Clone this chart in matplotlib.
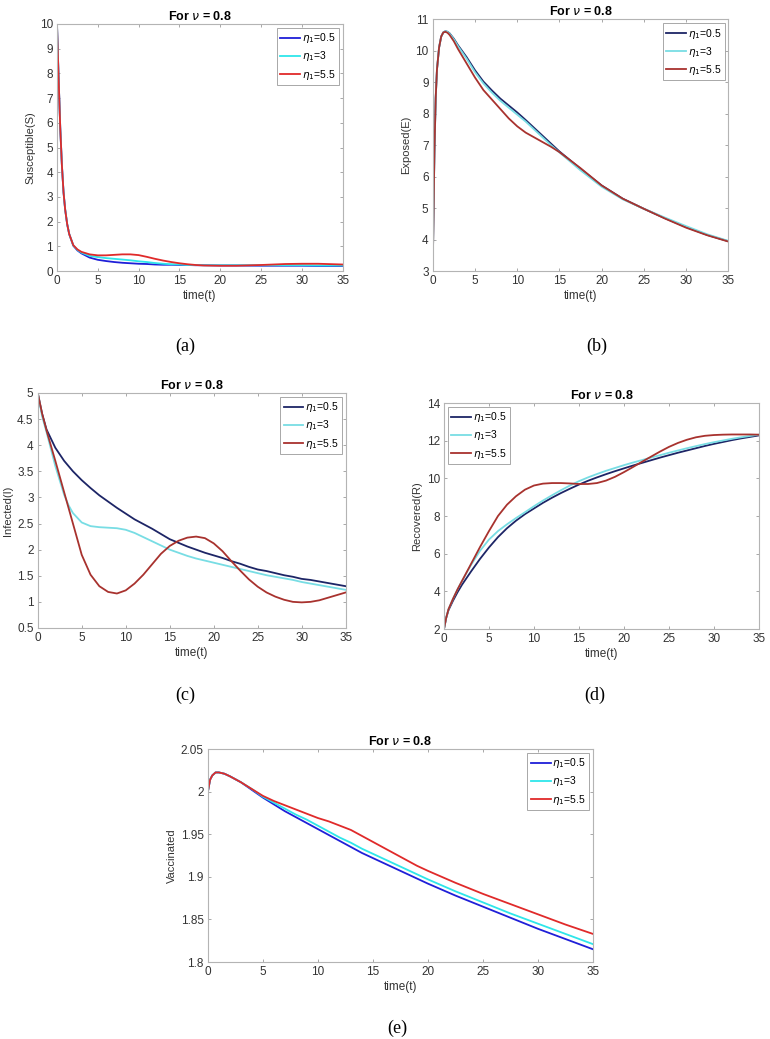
import numpy as np
import matplotlib.pyplot as plt
from matplotlib.ticker import FuncFormatter

plt.rcParams['font.family'] = ['Liberation Sans', 'DejaVu Sans']

# ============================================================
# DATA
# ============================================================

labels = [r'$\eta_1$=0.5', r'$\eta_1$=3', r'$\eta_1$=5.5']

# (a) Susceptible
t_a = [0, 0.2, 0.4, 0.6, 0.8, 1, 1.25, 1.5, 2, 2.5, 3, 4, 5, 6, 7, 8, 9, 10,
       11, 12, 13, 14, 15, 16, 17, 18, 20, 22, 25, 28, 30, 32, 35]
S_05 = [10, 7.8, 5.8, 4.3, 3.2, 2.5, 1.9, 1.5, 1.03, 0.84, 0.72, 0.55, 0.46, 0.41, 0.37, 0.34,
        0.32, 0.30, 0.29, 0.27, 0.26, 0.26, 0.25, 0.25, 0.24, 0.24, 0.23, 0.23, 0.22, 0.22, 0.22, 0.21, 0.21]
S_3 = [10, 7.8, 5.8, 4.3, 3.2, 2.5, 1.9, 1.5, 1.04, 0.86, 0.75, 0.62, 0.57, 0.53, 0.50, 0.47,
       0.44, 0.40, 0.37, 0.33, 0.30, 0.28, 0.27, 0.25, 0.25, 0.24, 0.24, 0.24, 0.24, 0.24, 0.24, 0.23, 0.23]
S_55 = [10, 7.8, 5.8, 4.3, 3.2, 2.5, 1.9, 1.5, 1.05, 0.88, 0.78, 0.68, 0.64, 0.64, 0.66, 0.68,
        0.68, 0.65, 0.58, 0.50, 0.43, 0.37, 0.32, 0.28, 0.25, 0.23, 0.22, 0.22, 0.25, 0.29, 0.30, 0.30, 0.27]

# (b) Exposed
t_b = [0, 0.1, 0.2, 0.35, 0.5, 0.75, 1, 1.25, 1.5, 1.75, 2, 2.5, 3, 4, 5, 6, 7, 8, 9, 10,
       11, 12, 13, 14, 15, 17.5, 20, 22.5, 25, 27.5, 30, 32.5, 35]
E_05 = [3, 5.0, 6.8, 8.5, 9.4, 10.1, 10.45, 10.58, 10.62, 10.6, 10.55, 10.38, 10.17, 9.8, 9.38, 9.02,
        8.74, 8.48, 8.26, 8.04, 7.8, 7.55, 7.3, 7.05, 6.8, 6.25, 5.72, 5.3, 4.98, 4.68, 4.4, 4.15, 3.95]
E_3 = [3, 5.0, 6.8, 8.5, 9.4, 10.1, 10.45, 10.58, 10.62, 10.6, 10.54, 10.36, 10.14, 9.75, 9.32, 8.96,
       8.67, 8.41, 8.19, 7.97, 7.75, 7.5, 7.25, 7.0, 6.77, 6.2, 5.68, 5.28, 4.98, 4.7, 4.43, 4.17, 3.96]
E_55 = [3, 5.0, 6.8, 8.5, 9.4, 10.1, 10.45, 10.58, 10.6, 10.57, 10.5, 10.3, 10.05, 9.6, 9.15, 8.75,
        8.45, 8.15, 7.85, 7.6, 7.4, 7.25, 7.1, 6.95, 6.78, 6.27, 5.72, 5.3, 4.98, 4.67, 4.38, 4.14, 3.94]

# (c) Infected
t_c = [0, 0.5, 1, 2, 3, 3.5, 4, 5, 6, 7, 8, 9, 10, 11, 12, 13, 14, 15, 16, 17, 18, 19, 20,
       21, 22, 23, 24, 25, 26, 27, 28, 29, 30, 31, 32, 33, 34, 35]
I_05 = [5, 4.6, 4.3, 3.95, 3.7, 3.6, 3.5, 3.33, 3.18, 3.04, 2.92, 2.8, 2.69, 2.58, 2.49, 2.4,
        2.3, 2.2, 2.13, 2.06, 2.0, 1.94, 1.89, 1.84, 1.78, 1.73, 1.67, 1.62, 1.59, 1.55, 1.51,
        1.48, 1.44, 1.42, 1.39, 1.36, 1.33, 1.3]
I_3 = [5, 4.55, 4.25, 3.6, 3.05, 2.85, 2.7, 2.52, 2.45, 2.43, 2.42, 2.41, 2.38, 2.32, 2.24, 2.16,
       2.08, 2.0, 1.94, 1.88, 1.83, 1.79, 1.75, 1.71, 1.67, 1.63, 1.59, 1.55, 1.51, 1.48, 1.45,
       1.42, 1.38, 1.35, 1.32, 1.29, 1.26, 1.23]
I_55 = [5, 4.6, 4.28, 3.7, 3.1, 2.8, 2.5, 1.9, 1.52, 1.3, 1.19, 1.16, 1.22, 1.35, 1.52, 1.72,
        1.92, 2.07, 2.17, 2.23, 2.25, 2.22, 2.12, 1.97, 1.78, 1.6, 1.43, 1.29, 1.18, 1.1, 1.04,
        1.0, 0.99, 1.0, 1.03, 1.08, 1.13, 1.18]

# (d) Recovered
t_d = [0, 0.25, 0.5, 1, 1.5, 2, 3, 4, 5, 6, 7, 8, 9, 10, 11, 12, 13, 14, 15, 16, 17, 18, 19,
       20, 21, 22, 23, 24, 25, 26, 27, 28, 29, 30, 31, 32, 33, 34, 35]
R_05 = [2, 2.6, 3.0, 3.5, 3.95, 4.35, 5.05, 5.72, 6.33, 6.88, 7.35, 7.75, 8.1, 8.4, 8.7, 8.97,
        9.22, 9.45, 9.67, 9.87, 10.05, 10.22, 10.38, 10.53, 10.68, 10.82, 10.96, 11.1, 11.23,
        11.36, 11.48, 11.6, 11.72, 11.83, 11.93, 12.03, 12.12, 12.2, 12.28]
R_3 = [2, 2.6, 3.05, 3.6, 4.1, 4.55, 5.4, 6.15, 6.75, 7.2, 7.56, 7.89, 8.2, 8.52, 8.82, 9.1,
       9.37, 9.62, 9.85, 10.05, 10.23, 10.4, 10.55, 10.7, 10.84, 10.97, 11.1, 11.23, 11.36,
       11.48, 11.6, 11.71, 11.82, 11.92, 12.01, 12.1, 12.18, 12.25, 12.32]
R_55 = [2, 2.6, 3.05, 3.6, 4.1, 4.55, 5.45, 6.35, 7.2, 8.0, 8.6, 9.05, 9.4, 9.62, 9.72, 9.75,
        9.75, 9.73, 9.7, 9.7, 9.75, 9.88, 10.08, 10.33, 10.6, 10.88, 11.15, 11.42, 11.67,
        11.88, 12.05, 12.18, 12.26, 12.3, 12.32, 12.33, 12.33, 12.33, 12.32]

# (e) Vaccinated
t_e = [0, 0.2, 0.4, 0.7, 1, 1.5, 2, 2.5, 3, 4, 5, 6, 7, 8, 9, 10, 11, 12, 13, 14, 15, 16,
       17, 18, 19, 20, 22.5, 25, 27.5, 30, 32.5, 35]
V_05 = [2.0, 2.014, 2.019, 2.0225, 2.0225, 2.021, 2.018, 2.0145, 2.011, 2.002, 1.993, 1.985,
        1.977, 1.970, 1.963, 1.956, 1.949, 1.942, 1.935, 1.928, 1.922, 1.916, 1.910, 1.904,
        1.898, 1.892, 1.878, 1.865, 1.852, 1.839, 1.827, 1.815]
V_3 = [2.0, 2.014, 2.019, 2.0225, 2.0225, 2.021, 2.018, 2.0145, 2.011, 2.003, 1.994, 1.987,
       1.980, 1.973, 1.967, 1.960, 1.953, 1.946, 1.940, 1.933, 1.927, 1.921, 1.915, 1.909,
       1.903, 1.897, 1.883, 1.870, 1.857, 1.845, 1.833, 1.821]
V_55 = [2.0, 2.014, 2.019, 2.0225, 2.0225, 2.021, 2.018, 2.0145, 2.011, 2.003, 1.995, 1.989,
        1.984, 1.979, 1.974, 1.969, 1.965, 1.960, 1.955, 1.948, 1.941, 1.934, 1.927, 1.920,
        1.913, 1.907, 1.893, 1.880, 1.868, 1.856, 1.844, 1.833]

# tick values
x_ticks = [0, 5, 10, 15, 20, 25, 30, 35]
yt_a = [0, 1, 2, 3, 4, 5, 6, 7, 8, 9, 10]
yt_b = [3, 4, 5, 6, 7, 8, 9, 10, 11]
yt_c = [0.5, 1, 1.5, 2, 2.5, 3, 3.5, 4, 4.5, 5]
yt_d = [2, 4, 6, 8, 10, 12, 14]
yt_e = [1.8, 1.85, 1.9, 1.95, 2, 2.05]

# colours
bright = ['#1f1fd8', '#2ee6ea', '#e02a2a']
muted = ['#1d2566', '#78dde4', '#a8322e']

# ============================================================
# FIGURE
# ============================================================

fig = plt.figure(figsize=(7.7, 10.39), dpi=100)

panels = [
    # rect, t, series, colours, ylabel, yticks, ylim, legend loc
    ([0.074, 0.739, 0.371, 0.238], t_a, [S_05, S_3, S_55], bright, 'Susceptible(S)', yt_a, (0, 10), 'upper right'),
    ([0.562, 0.739, 0.384, 0.2425], t_b, [E_05, E_3, E_55], muted, 'Exposed(E)', yt_b, (3, 11), 'upper right'),
    ([0.049, 0.3956, 0.400, 0.2262], t_c, [I_05, I_3, I_55], muted, 'Infected(I)', yt_c, (0.5, 5), 'upper right'),
    ([0.5766, 0.3946, 0.409, 0.2175], t_d, [R_05, R_3, R_55], muted, 'Recovered(R)', yt_d, (2, 14), 'upper left'),
    ([0.270, 0.0741, 0.500, 0.205], t_e, [V_05, V_3, V_55], bright, 'Vaccinated', yt_e, (1.8, 2.05), 'upper right'),
]

fmt = FuncFormatter(lambda v, pos: f'{v:g}')

for rect, t, series, cols, ylab, yt, ylim, loc in panels:
    ax = fig.add_axes(rect)
    for y, c, lab in zip(series, cols, labels):
        ax.plot(t, y, color=c, lw=1.3, label=lab)

    ax.set_xlim(0, 35)
    ax.set_ylim(*ylim)
    ax.set_xticks(x_ticks)
    ax.set_yticks(yt)
    ax.yaxis.set_major_formatter(fmt)

    ax.set_title(r'For $\nu$ = 0.8', fontsize=9, fontweight='bold', pad=3)
    ax.set_xlabel('time(t)', fontsize=8.5, color='#333333', labelpad=2)
    ax.set_ylabel(ylab, fontsize=8, color='#333333', labelpad=3)

    ax.tick_params(axis='both', direction='in', top=True, right=True,
                   length=2.5, width=0.6, color='#9a9a9a',
                   labelsize=8.5, labelcolor='#333333', pad=3)
    for spine in ax.spines.values():
        spine.set_linewidth(0.8)
        spine.set_color('#b4b4b4')

    leg = ax.legend(loc=loc, fontsize=7.5, fancybox=False, framealpha=1,
                    edgecolor='#9a9a9a', handlelength=1.9, handletextpad=0.15,
                    labelspacing=0.4, borderpad=0.35, borderaxespad=0.35)
    leg.get_frame().set_linewidth(0.6)

# ============================================================
# PANEL LETTERS
# ============================================================

letters = ['(a)', '(b)', '(c)', '(d)', '(e)']
letter_xy = [(185, 346), (597, 346), (185, 695), (595, 695), (397, 1028)]
for txt, (px, py) in zip(letters, letter_xy):
    fig.text(px / 770, 1 - py / 1039, txt, ha='center', va='center',
             fontsize=13, family='Liberation Serif')

plt.savefig('out.png', dpi=100)
